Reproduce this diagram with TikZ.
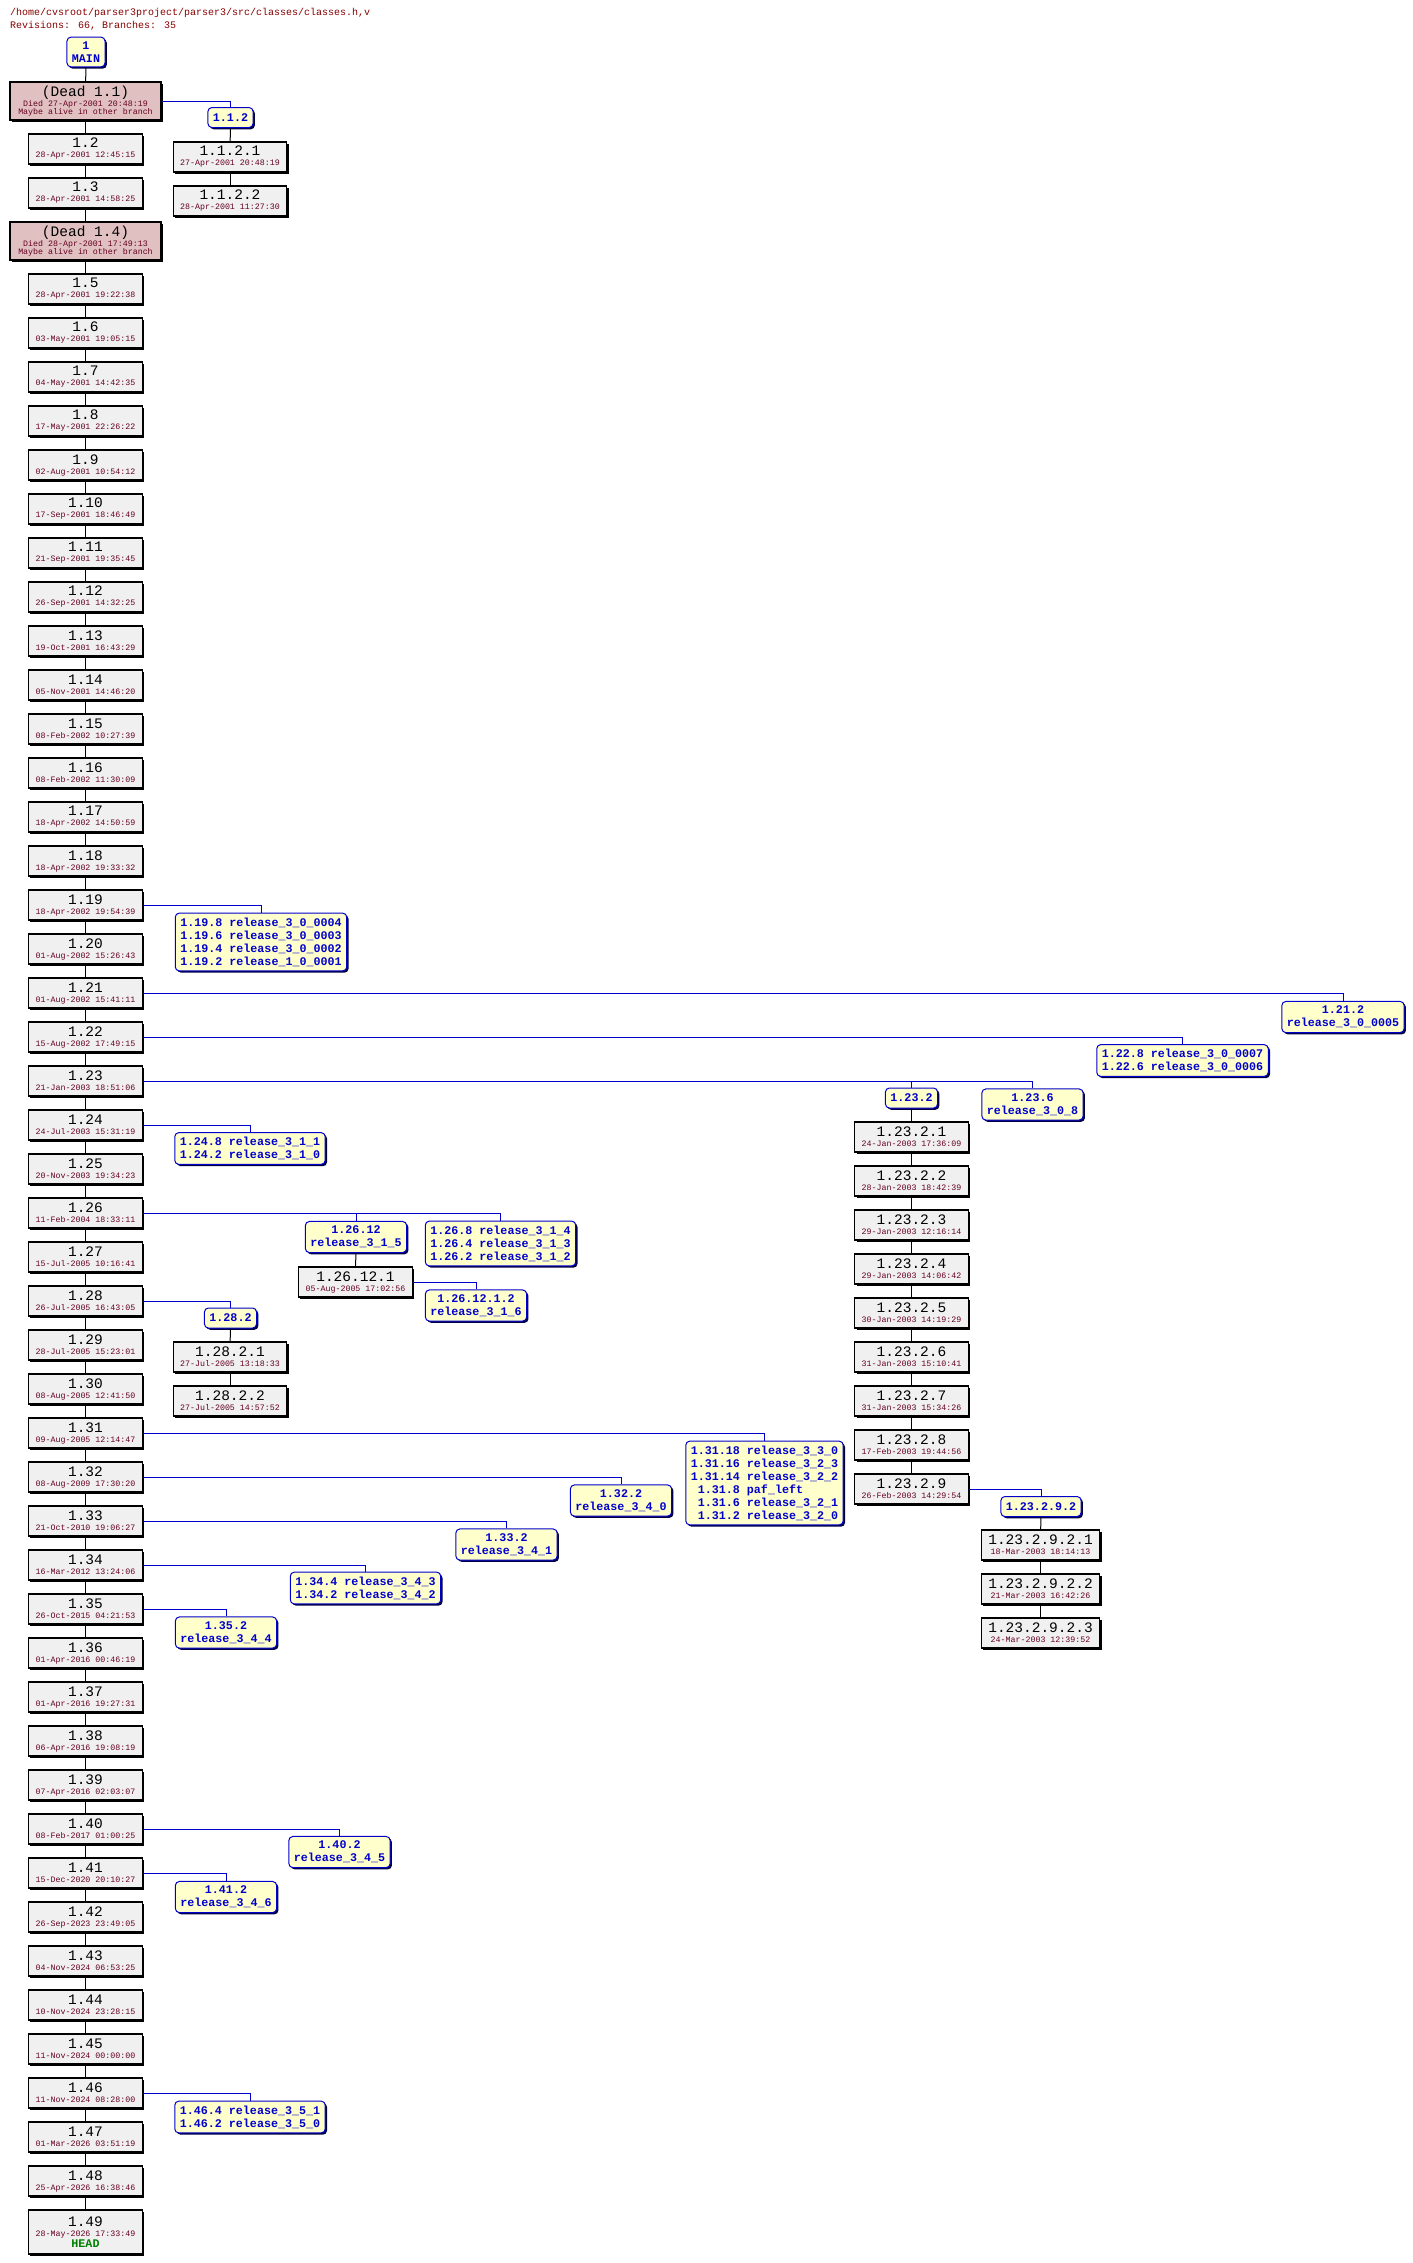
\documentclass[tikz,border=0pt]{standalone}
\usepackage{fontspec}
\usepackage{tikz}
\usetikzlibrary{shadows}

\newfontfamily\cvsmono{Liberation Mono}
\newcommand\revsize{\color{black}\cvsmono\fontsize{14.5}{16}\selectfont}
\newcommand\datesize{\cvsmono\fontsize{8.3}{10}\selectfont}
\newcommand\tagsize{\cvsmono\bfseries\fontsize{11.7}{13}\selectfont}
\newcommand\titlesize{\cvsmono\fontsize{10}{12}\selectfont}

\definecolor{datered}{RGB}{102,0,34}
\definecolor{titlered}{RGB}{136,0,0}
\definecolor{boxgray}{RGB}{240,240,240}
\definecolor{deadpink}{RGB}{224,192,192}
\definecolor{tagyellow}{RGB}{255,255,204}
\definecolor{tagblue}{RGB}{0,0,204}
\definecolor{headgreen}{RGB}{0,128,0}

\begin{document}
\begin{tikzpicture}[
        x=1pt, y=-1pt,
        revbox/.style={draw=black, line width=1.1pt, fill=boxgray, minimum width=111pt, minimum height=30pt,
            inner xsep=7pt, inner ysep=0pt, align=center, font=\datesize, text=datered,
            drop shadow={shadow xshift=1.8pt, shadow yshift=-1.8pt, fill=black, opacity=1}},
        deadbox/.style={revbox, fill=deadpink, minimum width=151pt, minimum height=38pt,
            font=\cvsmono\fontsize{8.3}{8.5}\selectfont},
        tagbox/.style={draw=tagblue, line width=1pt, fill=tagyellow, rounded corners=4pt,
            inner xsep=5pt, inner ysep=4.5pt, minimum height=20pt, align=center, font=\tagsize, text=tagblue,
            drop shadow={shadow xshift=1.8pt, shadow yshift=-1.8pt, fill=black!75!blue, opacity=1}},
        trunk/.style={line width=1pt, black},
        branch/.style={line width=1pt, tagblue}
    ]

    \path[use as bounding box, fill=white] (0,0) rectangle (1413,2263);

    % --- Header ---
    \node[anchor=base west, inner sep=0pt, font=\titlesize, text=titlered] (file) at (10,15)
        {/home/cvsroot/parser3project/parser3/src/classes/classes.h,v};
    \node[anchor=base west, inner sep=0pt, font=\titlesize, text=titlered] (stats) at (10,28)
        {Revisions: 66, Branches: 35};

    % --- Main trunk ---
    \node[tagbox] (main) at (86,52) {1\\MAIN};
    \node[deadbox] (d11) at (85.5,101) {{\revsize (Dead 1.1)}\\Died 27-Apr-2001 20:48:19\\Maybe alive in other branch};
    \node[revbox] (r2) at (85.5,149) {{\revsize 1.2}\\28-Apr-2001 12:45:15};
    \node[revbox] (r3) at (85.5,193) {{\revsize 1.3}\\28-Apr-2001 14:58:25};
    \node[deadbox] (d14) at (85.5,241) {{\revsize (Dead 1.4)}\\Died 28-Apr-2001 17:49:13\\Maybe alive in other branch};

    \foreach \n/\d in {
        5/28-Apr-2001 19:22:38, 6/03-May-2001 19:05:15, 7/04-May-2001 14:42:35,
        8/17-May-2001 22:26:22, 9/02-Aug-2001 10:54:12, 10/17-Sep-2001 18:46:49,
        11/21-Sep-2001 19:35:45, 12/26-Sep-2001 14:32:25, 13/19-Oct-2001 16:43:29,
        14/05-Nov-2001 14:46:20, 15/08-Feb-2002 10:27:39, 16/08-Feb-2002 11:30:09,
        17/18-Apr-2002 14:50:59, 18/18-Apr-2002 19:33:32, 19/18-Apr-2002 19:54:39,
        20/01-Aug-2002 15:26:43, 21/01-Aug-2002 15:41:11, 22/15-Aug-2002 17:49:15,
        23/21-Jan-2003 18:51:06, 24/24-Jul-2003 15:31:19, 25/20-Nov-2003 19:34:23,
        26/11-Feb-2004 18:33:11, 27/15-Jul-2005 10:16:41, 28/26-Jul-2005 16:43:05,
        29/28-Jul-2005 15:23:01, 30/08-Aug-2005 12:41:50, 31/09-Aug-2005 12:14:47,
        32/08-Aug-2009 17:30:20, 33/21-Oct-2010 19:06:27, 34/16-Mar-2012 13:24:06,
        35/26-Oct-2015 04:21:53, 36/01-Apr-2016 00:46:19, 37/01-Apr-2016 19:27:31,
        38/06-Apr-2016 19:08:19, 39/07-Apr-2016 02:03:07, 40/08-Feb-2017 01:00:25,
        41/15-Dec-2020 20:10:27, 42/26-Sep-2023 23:49:05, 43/04-Nov-2024 06:53:25,
        44/10-Nov-2024 23:28:15, 45/11-Nov-2024 00:00:00, 46/11-Nov-2024 08:28:00,
        47/01-Mar-2026 03:51:19, 48/25-Apr-2026 16:38:46
    } {
        \node[revbox] (r\n) at (85.5, {289+(\n-5)*44}) {{\revsize 1.\n}\\\d};
    }
    \node[revbox, minimum height=44pt] (r49) at (85.5,2232)
        {{\revsize 1.49}\\28-May-2026 17:33:49\\[1pt]{\color{headgreen}\tagsize HEAD}};

    \foreach \a/\b in {main/d11, d11/r2, r2/r3, r3/d14, d14/r5} {
        \draw[trunk] (\a) -- (\b);
    }
    \foreach \n [evaluate=\n as \m using int(\n+1)] in {5,...,48} {
        \draw[trunk] (r\n) -- (r\m);
    }

    % --- Branch 1.1.2 ---
    \node[tagbox] (tag112) at (230.5,117.5) {1.1.2};
    \node[revbox] (r1121) at (230,157) {{\revsize 1.1.2.1}\\27-Apr-2001 20:48:19};
    \node[revbox] (r1122) at (230,201) {{\revsize 1.1.2.2}\\28-Apr-2001 11:27:30};
    \draw[branch] (d11.east) -| (tag112.north);
    \draw[trunk] (tag112) -- (r1121);
    \draw[trunk] (r1121) -- (r1122);

    % --- Tags 1.19 to 1.22 ---
    \node[tagbox] (tag119) at (261,942)
        {1.19.8 release\_3\_0\_0004\\1.19.6 release\_3\_0\_0003\\1.19.4 release\_3\_0\_0002\\1.19.2 release\_1\_0\_0001};
    \node[tagbox] (tag121) at (1343,1017) {1.21.2\\release\_3\_0\_0005};
    \node[tagbox] (tag122) at (1182.5,1060.5) {1.22.8 release\_3\_0\_0007\\1.22.6 release\_3\_0\_0006};
    \draw[branch] (r19.east) -| (tag119.north);
    \draw[branch] (r21.east) -| (tag121.north);
    \draw[branch] (r22.east) -| (tag122.north);

    % --- Branch 1.23.2 ---
    \node[tagbox] (tag1232) at (911.5,1098) {1.23.2};
    \node[tagbox] (tag1236) at (1032.5,1104.5) {1.23.6\\release\_3\_0\_8};
    \draw[branch] (r23.east) -| (tag1232.north);
    \draw[branch] (r23.east) -| (tag1236.north);

    \foreach \n/\d in {
        1/24-Jan-2003 17:36:09, 2/28-Jan-2003 18:42:39, 3/29-Jan-2003 12:16:14,
        4/29-Jan-2003 14:06:42, 5/30-Jan-2003 14:19:29, 6/31-Jan-2003 15:10:41,
        7/31-Jan-2003 15:34:26, 8/17-Feb-2003 19:44:56, 9/26-Feb-2003 14:29:54
    } {
        \node[revbox] (r232\n) at (911.5, {1137+(\n-1)*44}) {{\revsize 1.23.2.\n}\\\d};
    }
    \draw[trunk] (tag1232) -- (r2321);
    \foreach \n [evaluate=\n as \m using int(\n+1)] in {1,...,8} {
        \draw[trunk] (r232\n) -- (r232\m);
    }

    % --- Branch 1.23.2.9.2 ---
    \node[tagbox] (tag23292) at (1041,1506.5) {1.23.2.9.2};
    \foreach \n/\d in {1/18-Mar-2003 18:14:13, 2/21-Mar-2003 16:42:26, 3/24-Mar-2003 12:39:52} {
        \node[revbox] (r23292\n) at (1040.5, {1545+(\n-1)*44}) {{\revsize 1.23.2.9.2.\n}\\\d};
    }
    \draw[branch] (r2329.east) -| (tag23292.north);
    \draw[trunk] (tag23292) -- (r232921);
    \draw[trunk] (r232921) -- (r232922);
    \draw[trunk] (r232922) -- (r232923);

    % --- Tags 1.24 and 1.26 ---
    \node[tagbox] (tag124) at (250,1148.5) {1.24.8 release\_3\_1\_1\\1.24.2 release\_3\_1\_0};
    \draw[branch] (r24.east) -| (tag124.north);

    \node[tagbox] (tag2612) at (356,1237) {1.26.12\\release\_3\_1\_5};
    \node[tagbox] (tag268) at (500.5,1243.5)
        {1.26.8 release\_3\_1\_4\\1.26.4 release\_3\_1\_3\\1.26.2 release\_3\_1\_2};
    \node[revbox] (r26121) at (355.5,1282) {{\revsize 1.26.12.1}\\05-Aug-2005 17:02:56};
    \node[tagbox] (tag261212) at (476,1305.5) {1.26.12.1.2\\release\_3\_1\_6};
    \draw[branch] (r26.east) -| (tag2612.north);
    \draw[branch] (r26.east) -| (tag268.north);
    \draw[trunk] (tag2612) -- (r26121);
    \draw[branch] (r26121.east) -| (tag261212.north);

    % --- Branch 1.28.2 ---
    \node[tagbox] (tag282) at (230.5,1318) {1.28.2};
    \node[revbox] (r2821) at (230,1357) {{\revsize 1.28.2.1}\\27-Jul-2005 13:18:33};
    \node[revbox] (r2822) at (230,1401) {{\revsize 1.28.2.2}\\27-Jul-2005 14:57:52};
    \draw[branch] (r28.east) -| (tag282.north);
    \draw[trunk] (tag282) -- (r2821);
    \draw[trunk] (r2821) -- (r2822);

    % --- Tags 1.31 to 1.46 ---
    \node[tagbox, align=left] (tag131) at (764.5,1483)
        {1.31.18 release\_3\_3\_0\\1.31.16 release\_3\_2\_3\\1.31.14 release\_3\_2\_2\\
         \hphantom{1}1.31.8 paf\_left\\\hphantom{1}1.31.6 release\_3\_2\_1\\\hphantom{1}1.31.2 release\_3\_2\_0};
    \node[tagbox] (tag132) at (621,1500.5) {1.32.2\\release\_3\_4\_0};
    \node[tagbox] (tag133) at (506.5,1544.5) {1.33.2\\release\_3\_4\_1};
    \node[tagbox] (tag134) at (365.5,1588) {1.34.4 release\_3\_4\_3\\1.34.2 release\_3\_4\_2};
    \node[tagbox] (tag135) at (226,1632.5) {1.35.2\\release\_3\_4\_4};
    \node[tagbox] (tag140) at (339.5,1852) {1.40.2\\release\_3\_4\_5};
    \node[tagbox] (tag141) at (226,1897) {1.41.2\\release\_3\_4\_6};
    \node[tagbox] (tag146) at (250,2117) {1.46.4 release\_3\_5\_1\\1.46.2 release\_3\_5\_0};

    \foreach \n in {31,32,33,34,35,40,41,46} {
        \draw[branch] (r\n.east) -| (tag1\n.north);
    }

\end{tikzpicture}
\end{document}
